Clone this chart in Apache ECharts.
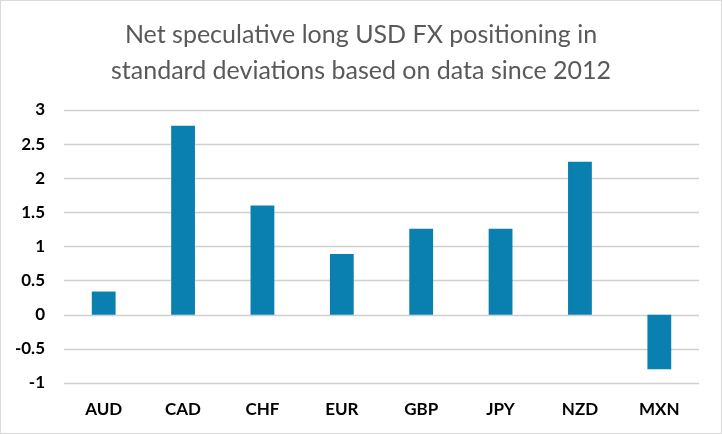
<!DOCTYPE html>
<html><head><meta charset="utf-8">
<script src="https://cdn.jsdelivr.net/npm/echarts@6/dist/echarts.min.js"></script>
<style>html,body{margin:0;padding:0;background:#fff}#c{width:722px;height:434px;box-sizing:border-box;border:1px solid #d9d9d9}</style>
</head><body><div id="c"></div>
<script>
const categories = ['AUD','CAD','CHF','EUR','GBP','JPY','NZD','MXN'];
const values = [0.34, 2.77, 1.60, 0.89, 1.26, 1.26, 2.24, -0.80];
const titleText = 'Net speculative long USD FX positioning in\nstandard deviations based on data since 2012';
const chart = echarts.init(document.getElementById('c'));
chart.setOption({
  animation:false,
  title:{text:titleText,left:'center',top:11,textStyle:{fontFamily:'Lato',fontWeight:'normal',fontSize:25,color:'#595959',lineHeight:36}},
  grid:{left:63,right:22,top:109,bottom:50},
  xAxis:{type:'category',data:categories,axisLine:{show:false,onZero:false},axisTick:{show:false},
    axisLabel:{fontFamily:'Lato',fontWeight:'bold',fontSize:17,color:'#000',margin:18}},
  yAxis:{type:'value',min:-1,max:3,interval:0.5,
    axisLabel:{fontFamily:'Lato',fontWeight:'bold',fontSize:17,color:'#000',margin:19}},
  series:[{type:'bar',data:values,barWidth:'30%',itemStyle:{color:'#0A80B0'}}]
});
chart.setOption({yAxis:{splitLine:{lineStyle:{color:'#d0d0d0',width:1.3}},axisLine:{show:false},axisTick:{show:false}}});
</script></body></html>
